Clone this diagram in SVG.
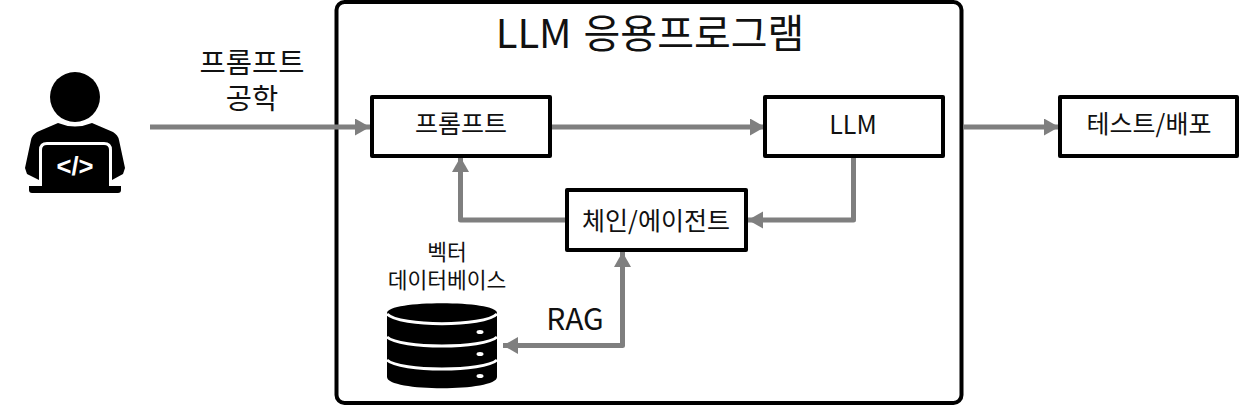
<svg xmlns="http://www.w3.org/2000/svg" width="1239" height="406" viewBox="0 0 1239 406">
<style>
text{font-family:"Noto Sans CJK KR","Noto Sans",sans-serif;fill:#111;text-anchor:middle}
.box{fill:#fff;stroke:#000;stroke-width:4;stroke-linejoin:round}
.c{fill:none;stroke:#7f7f7f;stroke-width:5;stroke-linejoin:round;marker-end:url(#a)}
.t{font-size:25px}
.o{font-size:28.500px}
.v{font-size:21.500px}
.band{fill:none;stroke:#fff;stroke-width:3}
</style>
<defs>
<marker id="a" markerUnits="userSpaceOnUse" markerWidth="16" markerHeight="18" refX="15" refY="8.500" orient="auto"><path d="M0 0L15 8.500L0 17Z" fill="#7f7f7f"/></marker>
<marker id="b" markerUnits="userSpaceOnUse" markerWidth="16" markerHeight="18" refX="0" refY="8.500" orient="auto"><path d="M15 0L0 8.500L15 17Z" fill="#7f7f7f"/></marker>
</defs>
<rect width="1239" height="406" fill="#fff"/>
<g id="app"><rect x="336.500" y="2" width="625" height="401" rx="8" fill="#fff" stroke="#000" stroke-width="4"/><text x="650" y="48" font-size="40" word-spacing="3">LLM 응용프로그램</text></g>
<g id="connectors">
<path class="c" d="M150 127H370"/>
<path class="c" d="M551 127H765"/>
<path class="c" d="M963 127H1059"/>
<path class="c" d="M853.500 157V220H748"/>
<path class="c" d="M566 220H460.500V157"/>
<path class="c" style="marker-start:url(#b)" d="M503 345.500H622.500V252"/>
</g>
<g id="user">
<circle cx="75" cy="97" r="25"/>
<path d="M58 123Q75 130 92 123L113 132Q118 135 119 140L125 168L123 174L112 180V150Q112 142 104 142H47Q39 142 39 150V180L27 174L25 168L31 140Q32 135 37 132Z"/>
<path d="M42 186V150Q42 145 47 145H104Q109 145 109 150V186Z"/>
<path d="M29 186H121V190Q121 193 118 193H32Q29 193 29 190Z"/>
<text x="75" y="175" font-size="26" font-weight="700" textLength="37" lengthAdjust="spacingAndGlyphs" style="fill:#fff;font-family:'Liberation Sans',sans-serif">&lt;/&gt;</text>
</g>
<g id="prompt-engineering"><text class="o" x="252" y="73">프롬프트</text><text class="o" x="252" y="109">공학</text></g>
<g id="prompt"><rect class="box" x="372" y="97" width="178" height="59"/><text class="t" x="461" y="133">프롬프트</text></g>
<g id="llm"><rect class="box" x="765" y="97" width="178" height="59"/><text class="t" x="853" y="134">LLM</text></g>
<g id="deploy"><rect class="box" x="1060" y="97" width="177" height="59"/><text class="t" x="1149" y="133">테스트/배포</text></g>
<g id="chain"><rect class="box" x="567" y="190" width="179" height="60"/><text class="t" x="656" y="230">체인/에이전트</text></g>
<g id="vector-db">
<text class="v" x="447" y="260">벡터</text>
<text class="v" x="447" y="288">데이터베이스</text>
<path d="M387 313C387 300 497 300 497 313V377C497 392 387 392 387 377Z"/>
<path class="band" d="M387 314C400 327 484 327 497 314"/>
<path class="band" d="M387 337C400 349 484 349 497 337"/>
<path class="band" d="M387 360C400 372 484 372 497 360"/>
<ellipse cx="480" cy="332" rx="3.500" ry="2" fill="#fff"/><ellipse cx="480" cy="354" rx="3.500" ry="2" fill="#fff"/><ellipse cx="480" cy="376" rx="3.500" ry="2" fill="#fff"/>
<text x="575" y="330" font-size="30">RAG</text>
</g>
</svg>
